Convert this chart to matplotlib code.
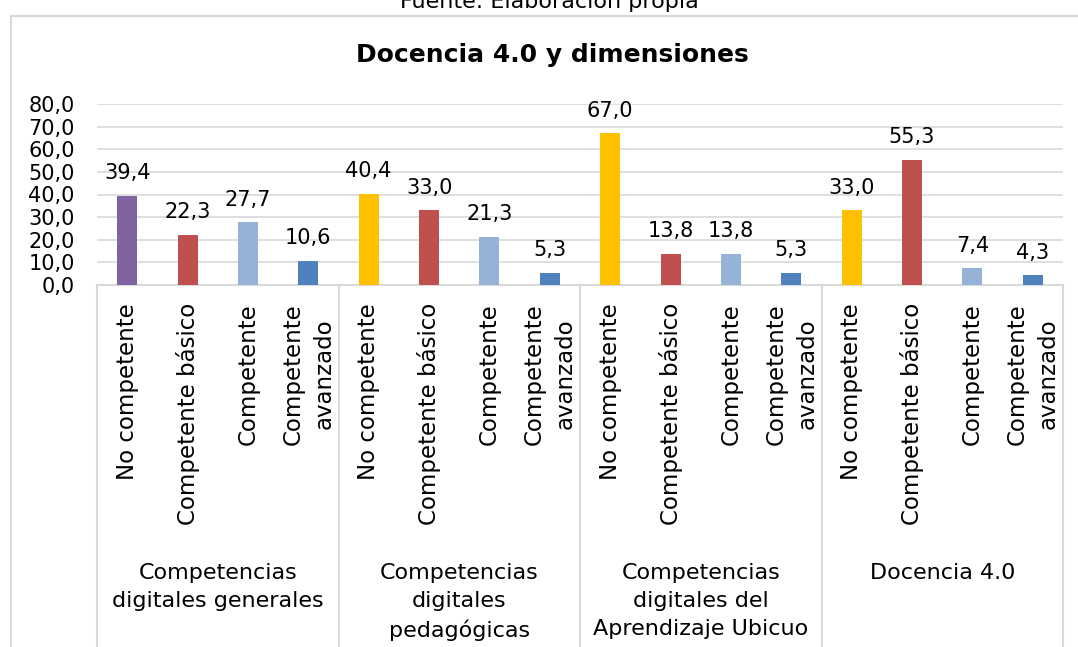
import matplotlib
matplotlib.use("Agg")
import matplotlib.pyplot as plt
from matplotlib import transforms
from matplotlib.lines import Line2D

plt.rcParams['font.family'] = ['DejaVu Sans']

groups = ["Competencias\ndigitales generales",
          "Competencias\ndigitales\npedagógicas",
          "Competencias\ndigitales del\nAprendizaje Ubicuo",
          "Docencia 4.0"]
levels = ["No competente", "Competente básico", "Competente", "Competente\navanzado"]
values = [
    [39.4, 22.3, 27.7, 10.6],
    [40.4, 33.0, 21.3, 5.3],
    [67.0, 13.8, 13.8, 5.3],
    [33.0, 55.3, 7.4, 4.3],
]
first_colors = ["#8064A2", "#FFC000", "#FFC000", "#FFC000"]
level_colors = ["#C0504D", "#95B3D7", "#4F81BD"]
yticks = [0, 10, 20, 30, 40, 50, 60, 70, 80]

W, H = 1078, 647
fig = plt.figure(figsize=(W / 100, H / 100), dpi=100)
fig.patch.set_facecolor("white")

# chart frame
frame_col = "#D9D9D9"
fig.add_artist(Line2D([11 / W, 11 / W], [0, 1 - 16 / H], transform=fig.transFigure, color=frame_col, lw=1.5))
fig.add_artist(Line2D([11 / W, 1], [1 - 16 / H, 1 - 16 / H], transform=fig.transFigure, color=frame_col, lw=1.5))

left, right, top, bottom = 97, 1063, 104, 285
ax = fig.add_axes([left / W, 1 - bottom / H, (right - left) / W, (bottom - top) / H])

ng = len(groups)
nl = len(levels)
n = ng * nl
xs = list(range(n))
heights = [v for g in values for v in g]
colors = []
for gi in range(ng):
    colors += [first_colors[gi]] + level_colors
ax.bar(xs, heights, width=0.33, color=colors, zorder=3)

ax.set_xlim(-0.5, n - 0.5)
ax.set_ylim(0, 80)
ax.set_yticks(yticks)
ax.set_yticklabels([f"{t:.1f}".replace(".", ",") for t in yticks], fontsize=15, color="#000000")
ax.tick_params(axis="y", length=0, pad=16)
ax.tick_params(axis="x", length=0, labelbottom=False)
ax.grid(axis="y", color=frame_col, lw=1.2, zorder=0)
for s in ["top", "right", "left"]:
    ax.spines[s].set_visible(False)
ax.spines["bottom"].set_color(frame_col)
ax.spines["bottom"].set_linewidth(1.5)
ax.set_facecolor("none")

# value labels
for x, h in zip(xs, heights):
    ax.annotate(f"{h:.1f}".replace(".", ","), xy=(x, h), xytext=(0, 12), textcoords="offset points",
                ha="center", va="baseline", fontsize=15)

blend = transforms.blended_transform_factory(ax.transData, fig.transFigure)

# category labels (rotated)
for gi in range(ng):
    for li in range(nl):
        x = gi * nl + li
        ax.text(x, 1 - 303 / H, levels[li], transform=blend, rotation=90, ha="center", va="top",
                multialignment="center", fontsize=16.5, linespacing=1.45)

# group labels
for gi in range(ng):
    cx = gi * nl + (nl - 1) / 2
    ax.text(cx, 1 - 563 / H, groups[gi], transform=blend, ha="center", va="top",
            multialignment="center", fontsize=16, linespacing=1.5)

# dividers
for b in range(ng + 1):
    xb = b * nl - 0.5
    ax.add_artist(Line2D([xb, xb], [0, 1 - bottom / H], transform=blend, color=frame_col, lw=1.5, clip_on=False))

fig.text(552 / W, 1 - 55 / H, "Docencia 4.0 y dimensiones", ha="center", va="center",
         fontsize=18, fontweight="bold")
fig.text(549 / W, 1 - 8 / H, "Fuente: Elaboración propia", ha="center", va="baseline", fontsize=16)

fig.savefig("out.png", dpi=100, facecolor="white")
